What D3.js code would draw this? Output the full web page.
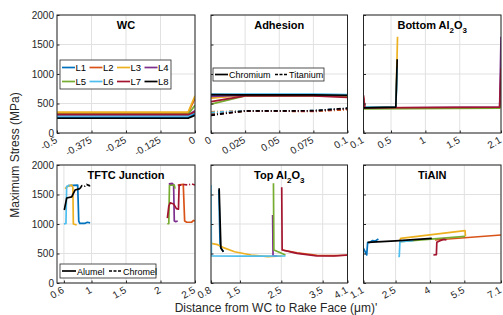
<!DOCTYPE html>
<html><head><meta charset="utf-8">
<script src="https://cdn.jsdelivr.net/npm/d3@7"></script>
<style>body{margin:0;background:#fff;} text{font-family:"Liberation Sans",Arial,sans-serif;}</style>
</head><body><svg id="c" width="503" height="315"></svg>
<script>
// ---------- data ----------
const seriesNames = ["L1","L2","L3","L4","L5","L6","L7","L8"];
const yTicks = [0,500,1000,1500,2000];

// WC
const wcX = [-0.5, -0.025, 0];
const wcStress = [
  [262,262,330],[335,335,590],[355,355,630],[300,300,380],
  [315,315,470],[290,290,350],[310,310,360],[250,250,300]
];
const wcTicks = [-0.5,-0.375,-0.25,-0.125,0];
const wcTickLabels = ["-0.5","-0.375","-0.25","-0.125","0"];

// Adhesion
const adhX = [0, 0.025, 0.05, 0.075, 0.1];
const adhChromium = [
  [640,650,650,650,645],[600,640,640,640,630],[590,645,645,645,640],[620,640,640,640,630],
  [490,630,630,630,620],[660,660,660,660,650],[530,630,630,630,605],[650,645,645,645,640]
];
const adhTitanium = [
  [340,375,375,375,415],[360,370,370,365,395],[350,372,372,372,410],[330,375,375,375,415],
  [320,372,372,372,412],[345,375,375,378,418],[310,370,370,370,410],[300,375,375,378,420]
];
const adhTicks = [0,0.025,0.05,0.075,0.1];
const adhTickLabels = ["0","0.025","0.05","0.075","0.1"];

// Bottom Al2O3
const botAl = [
  [[0.1,430],[0.57,440],[0.59,1150]],
  [[0.1,600],[0.12,420],[2.08,430],[2.1,560]],
  [[0.1,430],[0.57,440],[0.595,1630]],
  [[0.1,420],[2.08,440],[2.1,1630]],
  [[0.1,410],[2.08,420],[2.1,480]],
  [[0.1,560],[0.12,440],[0.57,445],[0.59,1100]],
  [[0.1,640],[0.12,425],[2.08,440],[2.1,1100]],
  [[0.1,425],[0.57,440],[0.59,1250]]
];
const botTicks = [0.1,0.5,1,1.5,2.1];
const botTickLabels = ["0.1","0.5","1","1.5","2.1"];

// TFTC Junction
const tftcAlumel = [
  [[0.66,1650],[0.8,1660],[0.815,1050],[0.83,1010],[0.9,1010],[0.94,1030],[0.98,1020]],
  [[2.25,1660],[2.33,1670],[2.35,1050],[2.38,1030],[2.45,1030],[2.48,1060],[2.5,1050]],
  [[0.616,1600],[0.66,1640],[0.713,1660],[0.73,1620],[0.737,1000],[0.785,983]],
  [[2.13,1680],[2.17,1680],[2.19,1670],[2.2,1050],[2.22,1040],[2.25,1050]],
  [[2.1,1000],[2.12,1010],[2.13,1660],[2.2,1660],[2.21,1600]],
  [[0.6,1000],[0.63,1010],[0.64,1640],[0.68,1650]],
  [[2.1,1100],[2.12,1300],[2.14,1360],[2.19,1340],[2.23,1260],[2.26,1250],[2.27,1660],[2.3,1660]],
  [[0.606,1237],[0.64,1440],[0.713,1460],[0.761,1576],[0.833,1600]]
];
const tftcChromel = [
  null, null, null,
  [[2.12,1680],[2.18,1690]],
  null, null,
  [[2.33,1670],[2.4,1660],[2.45,1680],[2.5,1660]],
  [[0.833,1600],[0.86,1650],[0.9,1640],[0.93,1670],[0.97,1650],[0.98,1610]]
];
const tftcTicks = [0.6,1,1.5,2,2.5];
const tftcTickLabels = ["0.6","1","1.5","2","2.5"];

// Top Al2O3
const topAl = [
  [[0.99,1580],[1.02,620],[1.1,530]],
  [[2.53,560],[2.88,510],[3.36,470],[3.77,465],[4.1,470]],
  [[0.8,673],[0.96,650],[1.1,600],[1.37,530],[1.77,475],[2.17,446],[2.5,458]],
  [[2.29,1152],[2.3,460],[2.4,455]],
  [[2.31,1689],[2.32,559],[2.45,520],[2.6,475]],
  [[0.8,1660],[0.81,458],[1.5,455],[2.0,455],[2.6,458]],
  [[2.51,1622],[2.52,559],[2.88,502],[3.36,458],[3.77,458],[4.1,475]],
  [[0.997,1605],[1.04,588],[1.1,530]]
];
const topTicks = [0.8,1.5,2.5,3.5,4.1];
const topTickLabels = ["0.8","1.5","2.5","3.5","4.1"];

// TiAlN
const tialn = [
  [[1.1,588],[1.24,475],[1.28,684],[1.38,690],[1.5,720],[1.6,710],[1.75,745]],
  [[4.22,729],[7.1,814]],
  [[2.69,720],[2.72,757],[5.53,887],[5.55,790]],
  null,
  [[2.69,700],[5.53,790]],
  [[2.62,446],[2.66,450],[2.69,701],[3.27,718]],
  [[4.15,475],[4.28,480],[4.3,690],[4.44,718],[4.6,740],[4.72,730]],
  [[1.28,690],[2.5,715],[4.08,757]]
];
const tialnTicks = [1.1,2.5,4,5.5,7.1];
const tialnTickLabels = ["1.1","2.5","4","5.5","7.1"];

// ---------- drawing ----------
const colors = ["#0072BD","#D95319","#EDB120","#7E2F8E","#77AC30","#4DBEEE","#A2142F","#000000"];
const svg = d3.select("#c");
const cols = [[57,195],[211,347.5],[363.5,501]];
const rows = [[15,133],[165,283]];
const dashStyle = "4,2,1,2";

function panel(id, col, row, xDomain, ticks, tickLabels, title, showY, drawFn) {
  const [x0,x1] = cols[col], [y0,y1] = rows[row];
  const x = d3.scaleLinear().domain(xDomain).range([x0,x1]);
  const y = d3.scaleLinear().domain([0,2000]).range([y1,y0]);
  const g = svg.append("g");
  g.append("clipPath").attr("id","clip"+id).append("rect")
    .attr("x",x0).attr("y",y0).attr("width",x1-x0).attr("height",y1-y0);
  g.selectAll(".gx").data(ticks).enter().append("line")
    .attr("x1",d=>x(d)).attr("x2",d=>x(d)).attr("y1",y0).attr("y2",y1)
    .attr("stroke","#e1e1e1").attr("stroke-width",1);
  g.selectAll(".gy").data(yTicks).enter().append("line")
    .attr("x1",x0).attr("x2",x1).attr("y1",d=>y(d)).attr("y2",d=>y(d))
    .attr("stroke","#e1e1e1").attr("stroke-width",1);
  const plot = g.append("g").attr("clip-path","url(#clip"+id+")");
  drawFn(plot, x, y);
  g.append("rect").attr("x",x0).attr("y",y0).attr("width",x1-x0).attr("height",y1-y0)
    .attr("fill","none").attr("stroke","#262626").attr("stroke-width",1);
  const xa = g.append("g").attr("transform",`translate(0,${y1})`)
    .call(d3.axisBottom(x).tickValues(ticks).tickSize(-2.5).tickFormat(""));
  xa.select(".domain").remove();
  xa.selectAll("line").attr("stroke","#262626");
  const ya = g.append("g").attr("transform",`translate(${x0},0)`)
    .call(d3.axisLeft(y).tickValues(yTicks).tickSize(-2.5).tickFormat(""));
  ya.select(".domain").remove();
  ya.selectAll("line").attr("stroke","#262626");
  g.selectAll(".xl").data(ticks).enter().append("text")
    .attr("transform",(d)=>`translate(${x(d)+1},${y1+9}) rotate(-30)`)
    .attr("text-anchor","end").attr("font-size",10).attr("fill","#262626")
    .text((d,i)=>tickLabels[i]);
  if (showY) {
    g.selectAll(".yl").data(yTicks).enter().append("text")
      .attr("x",x0-3).attr("y",d=>y(d)+3.5).attr("text-anchor","end")
      .attr("font-size",10).attr("fill","#262626").text(d=>d);
  }
  const t = g.append("text").attr("x",(x0+x1)/2).attr("y",y0+14).attr("text-anchor","middle")
    .attr("font-size",11).attr("font-weight","bold").attr("fill","#000");
  if (Array.isArray(title)) {
    title.forEach(p => {
      const s = t.append("tspan").text(p.t);
      if (p.sub) s.attr("font-size",8).attr("dy",4); else if (p.up) s.attr("dy",-4);
    });
  } else t.text(title);
  return {g,x,y,x0,x1,y0,y1};
}

const line = (x,y) => d3.line().x(d=>x(d[0])).y(d=>y(d[1]));
function drawPts(plot, x, y, arr, dash) {
  arr.forEach((pts,i)=>{
    if (!pts) return;
    const p = plot.append("path").attr("d", line(x,y)(pts)).attr("fill","none")
      .attr("stroke",colors[i]).attr("stroke-width",1.7).attr("stroke-linejoin","round");
    if (dash) p.attr("stroke-dasharray",dashStyle);
  });
}
function drawXY(plot, x, y, xs, arr, dash) {
  drawPts(plot, x, y, arr.map(v => v.map((val,j)=>[xs[j],val])), dash);
}

const p1 = panel(1,0,0,[-0.5,0],wcTicks,wcTickLabels,"WC",true,(pl,x,y)=>drawXY(pl,x,y,wcX,wcStress,false));
{
  const lg = p1.g.append("g");
  lg.append("rect").attr("x",60).attr("y",60).attr("width",111).attr("height",29)
    .attr("fill","#fff").attr("stroke","#262626").attr("stroke-width",0.8);
  seriesNames.forEach((n,i)=>{
    const cx = 62 + (i%4)*27.5, cy = 67.5 + Math.floor(i/4)*14;
    lg.append("line").attr("x1",cx).attr("x2",cx+13).attr("y1",cy).attr("y2",cy)
      .attr("stroke",colors[i]).attr("stroke-width",1.7);
    lg.append("text").attr("x",cx+13.5).attr("y",cy+3.3).attr("font-size",9.5).attr("fill","#000").text(n);
  });
}
const p2 = panel(2,1,0,[0,0.1],adhTicks,adhTickLabels,"Adhesion",false,(pl,x,y)=>{
  drawXY(pl,x,y,adhX,adhChromium,false);
  drawXY(pl,x,y,adhX,adhTitanium,true);
});
{
  const lg = p2.g.append("g");
  lg.append("rect").attr("x",213).attr("y",68).attr("width",111).attr("height",13)
    .attr("fill","#fff").attr("stroke","#262626").attr("stroke-width",0.8);
  lg.append("line").attr("x1",215).attr("x2",228).attr("y1",74.5).attr("y2",74.5).attr("stroke","#000").attr("stroke-width",1.7);
  lg.append("text").attr("x",229).attr("y",78).attr("font-size",9).text("Chromium");
  lg.append("line").attr("x1",275).attr("x2",288).attr("y1",74.5).attr("y2",74.5).attr("stroke","#000").attr("stroke-width",1.7).attr("stroke-dasharray","3,1.5");
  lg.append("text").attr("x",289).attr("y",78).attr("font-size",9).text("Titanium");
}
panel(3,2,0,[0.1,2.1],botTicks,botTickLabels,[{t:"Bottom Al"},{t:"2",sub:true},{t:"O",up:true},{t:"3",sub:true}],false,(pl,x,y)=>drawPts(pl,x,y,botAl,false));
const p4 = panel(4,0,1,[0.5,2.5],tftcTicks,tftcTickLabels,"TFTC Junction",true,(pl,x,y)=>{
  drawPts(pl,x,y,tftcAlumel,false);
  drawPts(pl,x,y,tftcChromel,true);
});
{
  const lg = p4.g.append("g");
  lg.append("rect").attr("x",60).attr("y",264).attr("width",96).attr("height",14)
    .attr("fill","#fff").attr("stroke","#262626").attr("stroke-width",0.8);
  lg.append("line").attr("x1",62).attr("x2",76).attr("y1",271).attr("y2",271).attr("stroke","#000").attr("stroke-width",1.7);
  lg.append("text").attr("x",77).attr("y",274.5).attr("font-size",9).text("Alumel");
  lg.append("line").attr("x1",109).attr("x2",122).attr("y1",271).attr("y2",271).attr("stroke","#000").attr("stroke-width",1.7).attr("stroke-dasharray","3,1.5");
  lg.append("text").attr("x",123).attr("y",274.5).attr("font-size",9).text("Chromel");
}
panel(5,1,1,[0.8,4.1],topTicks,topTickLabels,[{t:"Top Al"},{t:"2",sub:true},{t:"O",up:true},{t:"3",sub:true}],false,(pl,x,y)=>drawPts(pl,x,y,topAl,false));
panel(6,2,1,[1.1,7.1],tialnTicks,tialnTickLabels,"TiAlN",false,(pl,x,y)=>drawPts(pl,x,y,tialn,false));

svg.append("text").attr("transform","translate(19,155) rotate(-90)").attr("text-anchor","middle")
  .attr("font-size",12).attr("fill","#262626").text("Maximum Stress (MPa)");
svg.append("text").attr("x",276).attr("y",312).attr("text-anchor","middle")
  .attr("font-size",12).attr("fill","#262626").text("Distance from WC to Rake Face (μm)'");
</script></body></html>
